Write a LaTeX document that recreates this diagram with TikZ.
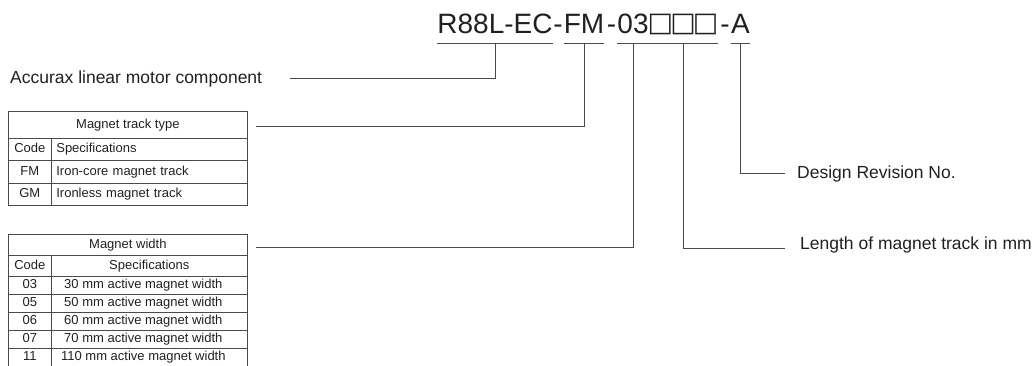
\documentclass[tikz,border=0pt]{standalone}
\usepackage{fontspec}
\setmainfont{Liberation Sans}
\newfontfamily\boxfont{DejaVu Sans}
\usetikzlibrary{positioning}
\definecolor{ink}{HTML}{231F20}
\definecolor{rule}{HTML}{4A4A4A}
\tikzset{
  seg/.style={font=\fontsize{28}{30}\selectfont, text=ink, inner sep=0pt, anchor=base},
  lbl/.style={font=\fontsize{17.5}{20}\selectfont, text=ink, inner sep=0pt},
  cell/.style={draw=rule, line width=0.7pt, anchor=north west, inner sep=0pt,
    font=\fontsize{13}{15}\selectfont, text=ink, text height=9.4pt, text depth=2.6pt},
  lead/.style={draw=rule, line width=0.8pt},
}
\begin{document}
\begin{tikzpicture}[x=1pt, y=-1pt] % 1pt per pixel, y down
    \useasboundingbox (0,0) rectangle (1033,365);

    % Part number
    \node[seg] (pAcc) at (495,33) {R88L-EC};
    \node[seg] (h1) at (558,33) {-};
    \node[seg] (pType) at (584,33) {FM};
    \node[seg] (h2) at (611.5,33) {-};
    \node[seg] (pWidth) at (633,33) {03};
    \node[seg, font=\boxfont\fontsize{27}{30}\selectfont, minimum width=61pt] (pLen) at (683,33) {\raisebox{1.5pt}{□\kern-3pt□\kern-3pt□}};
    \node[seg] (h3) at (725,33) {-};
    \node[seg] (pRev) at (740.5,33) {A};

    % Underlines
    \draw[lead] ([yshift=-10pt]pAcc.base west) -- ([yshift=-10pt]pAcc.base east);
    \draw[lead] ([yshift=-10pt]pType.base west) -- ([yshift=-10pt]pType.base east);
    \draw[lead] ([yshift=-10pt]pWidth.base west) -- ([yshift=-10pt]pWidth.base east);
    \draw[lead] ([yshift=-10pt]pLen.base west) -- ([yshift=-10pt]pLen.base east);
    \draw[lead] ([yshift=-10pt]pRev.base west) -- ([yshift=-10pt]pRev.base east);

    % Labels
    \node[lbl, anchor=base west] (lAcc) at (10,83) {Accurax linear motor component};
    \node[lbl, anchor=base west] (lRev) at (797,178) {Design Revision No.};
    \node[lbl, anchor=base west] (lLen) at (800,249) {Length of magnet track in mm};

    % Magnet track type
    \node[cell, minimum width=239pt, minimum height=26.5pt] (tType) at (8,111) {Magnet track type};
    \node[cell, minimum width=43pt, minimum height=22.5pt] (tTypeC1) at (8,137.5) {Code};
    \node[cell, minimum height=22.5pt, text width=186pt, inner xsep=5pt, align=left] (tTypeS1) at (51,137.5) {Specifications};
    \node[cell, minimum width=43pt, minimum height=22.5pt] (tTypeC2) at (8,160) {FM};
    \node[cell, minimum height=22.5pt, text width=186pt, inner xsep=5pt, align=left] (tTypeS2) at (51,160) {Iron-core magnet track};
    \node[cell, minimum width=43pt, minimum height=22.5pt] (tTypeC3) at (8,182.5) {GM};
    \node[cell, minimum height=22.5pt, text width=186pt, inner xsep=5pt, align=left] (tTypeS3) at (51,182.5) {Ironless magnet track};

    % Magnet width
    \node[cell, minimum width=239pt, minimum height=21pt] (tWidth) at (8,234) {Magnet width};
    \node[cell, minimum width=43pt, minimum height=21pt] (tWidthC1) at (8,255) {Code};
    \node[cell, minimum width=196pt, minimum height=21pt] (tWidthS1) at (51,255) {Specifications};
    \node[cell, minimum width=43pt, minimum height=18pt] (tWidthC2) at (8,276) {03};
    \node[cell, minimum width=196pt, minimum height=18pt, xshift=-6pt, draw=none] (tWidthS2) at (51,276) {30 mm active magnet width};
    \node[cell, minimum width=43pt, minimum height=18pt] (tWidthC3) at (8,294) {05};
    \node[cell, minimum width=196pt, minimum height=18pt, xshift=-6pt, draw=none] (tWidthS3) at (51,294) {50 mm active magnet width};
    \node[cell, minimum width=43pt, minimum height=18pt] (tWidthC4) at (8,312) {06};
    \node[cell, minimum width=196pt, minimum height=18pt, xshift=-6pt, draw=none] (tWidthS4) at (51,312) {60 mm active magnet width};
    \node[cell, minimum width=43pt, minimum height=18pt] (tWidthC5) at (8,330) {07};
    \node[cell, minimum width=196pt, minimum height=18pt, xshift=-6pt, draw=none] (tWidthS5) at (51,330) {70 mm active magnet width};
    \node[cell, minimum width=43pt, minimum height=18pt] (tWidthC6) at (8,348) {11};
    \node[cell, minimum width=196pt, minimum height=18pt, xshift=-6pt, draw=none] (tWidthS6) at (51,348) {110 mm active magnet width};
    % spec column borders
    \draw[rule, line width=0.7pt] (51,276) rectangle (247,294) (51,294) rectangle (247,312)
        (51,312) rectangle (247,330) (51,330) rectangle (247,348) (51,348) rectangle (247,366);

    % Leaders
    \draw[lead] ([xshift=28pt]lAcc.east) -| ([yshift=-10pt]pAcc.base);
    \draw[lead] ([xshift=8pt,yshift=-2pt]tType.east) -| ([yshift=-10pt]pType.base);
    \draw[lead] ([xshift=8pt,yshift=-3pt]tWidth.east) -| ([yshift=-10pt]pWidth.base);
    \draw[lead] ([yshift=-10pt]pLen.base) |- ([xshift=-15pt,yshift=-3.5pt]lLen.west);
    \draw[lead] ([yshift=-10pt]pRev.base) |- ([xshift=-12pt]lRev.west);
\end{tikzpicture}
\end{document}
